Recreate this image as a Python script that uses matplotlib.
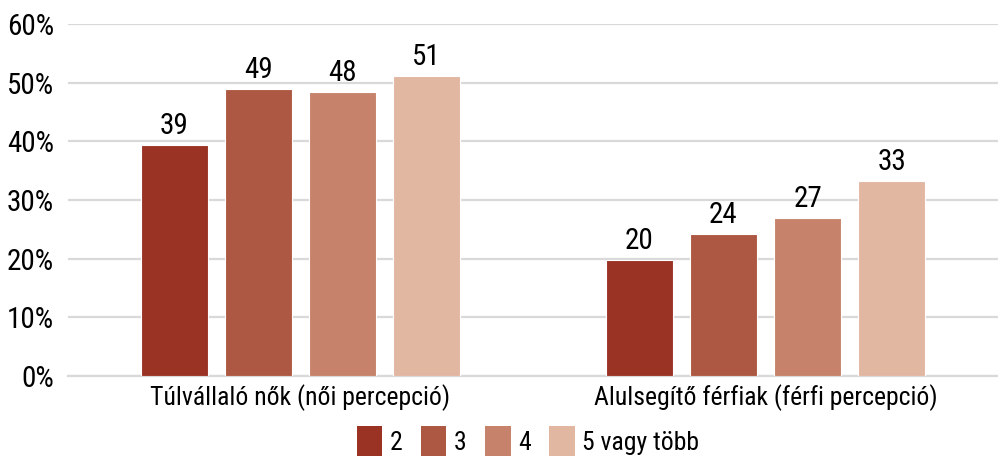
import matplotlib.pyplot as plt
import numpy as np
from matplotlib import font_manager

# font: Roboto Condensed if available, else Roboto
names = font_manager.get_font_names()
font = 'Roboto Condensed' if 'Roboto Condensed' in names else 'Roboto'
plt.rcParams['font.family'] = [font, 'DejaVu Sans']

categories = ['Túlvállaló nők (női percepció)', 'Alulsegítő férfiak (férfi percepció)']
series_names = ['2', '3', '4', '5 vagy több']
values = [
    [39.4, 19.8],   # 2
    [48.9, 24.2],   # 3
    [48.4, 26.9],   # 4
    [51.1, 33.2],   # 5 vagy több
]
labels = [
    [39, 20],
    [49, 24],
    [48, 27],
    [51, 33],
]
colors = ['#9a3324', '#ad5842', '#c6826a', '#e2b7a2']

fig = plt.figure(figsize=(9.98, 4.57), dpi=100)
ax = fig.add_axes([68 / 998, 1 - 376 / 457, 930 / 998, 352 / 457])

x = np.arange(len(categories))
width = 0.144
step = 0.181
for i, (name, vals) in enumerate(zip(series_names, values)):
    pos = x + (i - 1.5) * step
    bars = ax.bar(pos, vals, width, color=colors[i], edgecolor='white',
                  linewidth=0.8, label=name, zorder=3)
    for bar, lab in zip(bars, labels[i]):
        ax.text(bar.get_x() + bar.get_width() / 2, bar.get_height() + 0.9,
                str(lab), ha='center', va='bottom', fontsize=21, color='black')

ax.set_xlim(-0.5, 1.5)
ax.set_ylim(0, 60)
ax.set_yticks(range(0, 61, 10))
ax.set_yticklabels([f'{t}%' for t in range(0, 61, 10)], fontsize=21)
ax.set_xticks(x)
ax.set_xticklabels(categories, fontsize=18.5)
ax.tick_params(axis='both', length=0)
ax.tick_params(axis='y', pad=10)
ax.tick_params(axis='x', pad=6)
ax.grid(axis='y', color='#d9d9d9', linewidth=1.6, zorder=0)
for side in ['top', 'right', 'left']:
    ax.spines[side].set_visible(False)
ax.spines['bottom'].set_color('#d9d9d9')
ax.spines['bottom'].set_linewidth(1.6)

leg = ax.legend(loc='center', bbox_to_anchor=(528 / 998, 1 - 441 / 457),
                bbox_transform=fig.transFigure, ncol=4, frameon=False, fontsize=18.5,
                handlelength=1.0, handleheight=1.4, handletextpad=0.3,
                columnspacing=0.7, borderpad=0.2)
for h in leg.legend_handles:
    h.set_edgecolor('none')

fig.savefig('out.png', dpi=100)
